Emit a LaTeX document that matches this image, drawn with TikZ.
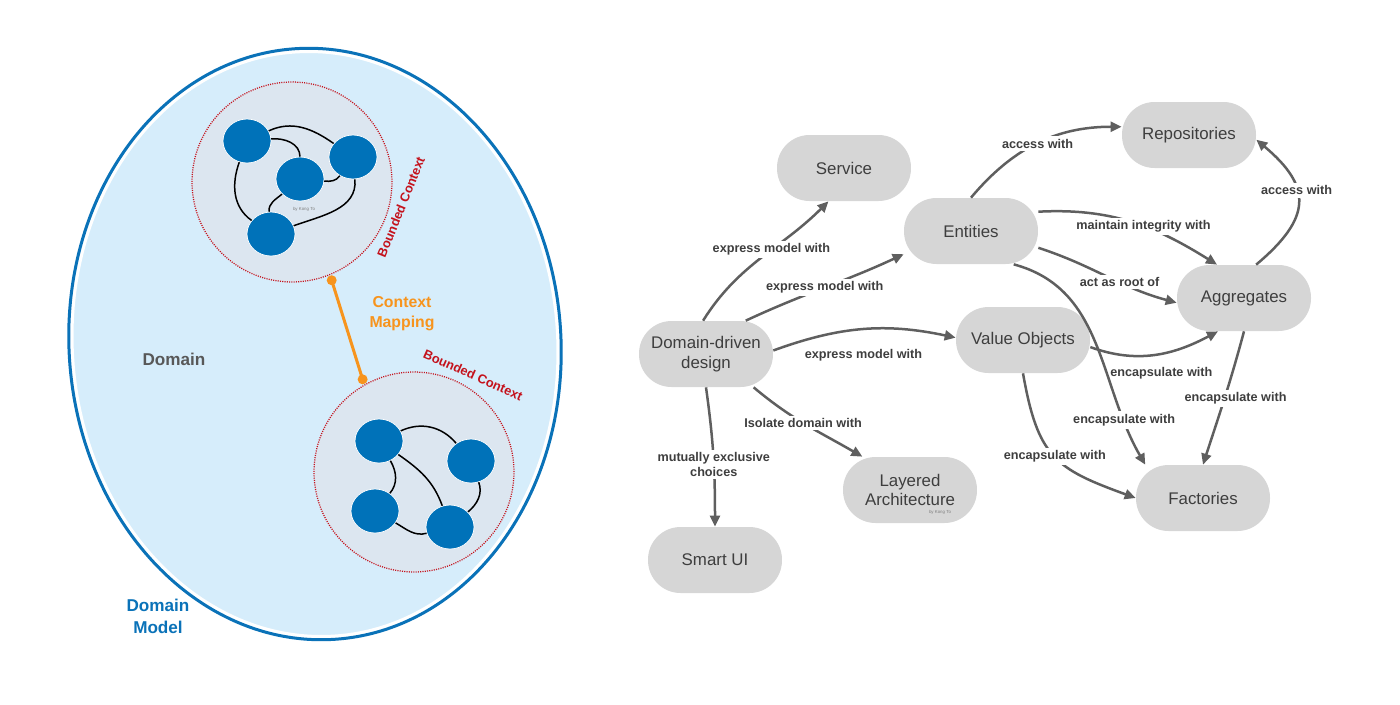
\documentclass[tikz,border=0pt]{standalone}
\usepackage{fontspec}
\setmainfont{Liberation Sans}
\usetikzlibrary{shapes.geometric,arrows.meta}
\definecolor{dmfill}{RGB}{214,237,251}
\definecolor{dmblue}{RGB}{10,114,184}
\definecolor{bcfill}{RGB}{220,230,240}
\definecolor{bcred}{RGB}{196,18,28}
\definecolor{objblue}{RGB}{0,114,185}
\definecolor{mapor}{RGB}{247,148,29}
\definecolor{nodegray}{RGB}{214,214,214}
\definecolor{txtgray}{RGB}{62,62,62}
\definecolor{domgray}{RGB}{88,88,88}
\definecolor{arrgray}{RGB}{95,95,95}

\begin{document}
\begin{tikzpicture}[x=0.02cm,y=-0.02cm,
  concept/.style={rectangle,rounded corners=0.65cm,fill=nodegray,minimum width=2.68cm,minimum height=1.32cm,inner sep=0pt,align=center,text=txtgray,font=\fontsize{9.6}{11.3}\selectfont},
  rel/.style={draw=arrgray,line width=0.05cm,-{Triangle[length=0.22cm,width=0.2cm]}},
  lbl/.style={fill=white,inner sep=1.5pt,align=center,text=txtgray,font=\bfseries\fontsize{7.2}{8}\selectfont},
  obj/.style={ellipse,fill=objblue,draw=white,line width=0.4pt,minimum width=0.96cm,minimum height=0.88cm,inner sep=0pt},
  link/.style={draw=black,line width=0.03cm},
  bctx/.style={circle,fill=bcfill,draw=bcred,dash pattern=on 0.6pt off 0.7pt,line width=0.025cm,minimum size=4cm,inner sep=0pt,outer sep=3.4pt},
  bctxtext/.style={text=bcred,font=\bfseries\fontsize{7.3}{8}\selectfont},
  sig/.style={text=gray,font=\fontsize{2.5}{3}\selectfont}]
  \useasboundingbox (0,0) rectangle (1400,704);

  \draw[dmblue,line width=0.06cm,rotate around={4:(315,344)}] (315,344) ellipse [x radius=4.92cm, y radius=5.92cm];
  \filldraw[fill=dmfill,draw=white,line width=0.03cm,rotate around={4:(315,344)}] (315,344) ellipse [x radius=4.84cm, y radius=5.84cm];

  \node[bctx] (bc1) at (292,182) {};
  \node[bctx] (bc2) at (414,472) {};

  \node[obj] (a) at (247,141) {};
  \node[obj] (b) at (353,157) {};
  \node[obj] (c) at (300,179) {};
  \node[obj] (d) at (271,234) {};
  \draw[link] (a) to[out=25,in=145] (b);
  \draw[link] (a) to[out=5,in=90] (c);
  \draw[link] (a) to[out=-110,in=145] (d);
  \draw[link] (c) to[out=-5,in=235] (b);
  \draw[link] (c) to[out=220,in=95] (d);
  \draw[link] (b) to[out=-85,in=20] (d);
  \node[sig] (sig1) at (304,209) {by Kong To};

  \node[obj] (e) at (379,441) {};
  \node[obj] (f) at (471,461) {};
  \node[obj] (g) at (375,511) {};
  \node[obj] (h) at (450,527) {};
  \draw[link] (e) to[out=25,in=130] (f);
  \draw[link] (e) to[out=-35,in=110] (h);
  \draw[link] (e) to[out=-60,in=50] (g);
  \draw[link] (g) to[out=-30,in=195] (h);
  \draw[link] (f) to[out=-70,in=40] (h);

  \draw[mapor,line width=0.06cm] (bc1.-68) -- (bc2.119);
  \fill[mapor] (bc1.-68) circle (0.1cm) (bc2.119) circle (0.1cm);

  \node[text=mapor,align=center,font=\bfseries\fontsize{9}{11.3}\selectfont] (ctxmap) at (402,314) {Context\\Mapping};
  \node[text=domgray,font=\bfseries\fontsize{9.75}{12}\selectfont] (domain) at (174,359) {Domain};
  \node[text=dmblue,align=center,font=\bfseries\fontsize{9.75}{12.5}\selectfont] (dmodel) at (158,616) {Domain\\Model};
  \node[bctxtext,rotate=68] (bct1) at (401,207) {Bounded Context};
  \node[bctxtext,rotate=-24] (bct2) at (473,375) {Bounded Context};

  \node[concept] (ddd) at (706,354) {Domain-driven\\design};
  \node[concept] (service) at (844,168) {Service};
  \node[concept] (entities) at (971,231) {Entities};
  \node[concept] (repos) at (1189,135) {Repositories};
  \node[concept] (aggr) at (1244,298) {Aggregates};
  \node[concept] (valobj) at (1023,340) {Value Objects};
  \node[concept] (factories) at (1203,498) {Factories};
  \node[concept] (layered) at (910,490) {Layered\\Architecture};
  \node[concept] (smartui) at (715,560) {Smart UI};
  \node[sig] (sig2) at (940,512) {by Kong To};

  \draw[rel] (ddd.95) to[out=58,in=-135] node[lbl,pos=.58] {express model with} (service.245);
  \draw[rel] (ddd.40) to[out=25,in=205] node[lbl] {express model with} (entities.199);
  \draw[rel] (ddd.3) to[out=20,in=168] node[lbl,fill=none,below=9pt] {express model with} (valobj.178);
  \draw[rel] (ddd.-35) to[out=-40,in=150] node[lbl,pos=.47] {Isolate domain with} (layered.145);
  \draw[rel] (ddd.south) to[out=-82,in=90] node[lbl,pos=.56] {mutually exclusive\\choices} (smartui.north);
  \draw[rel] (entities.north) to[out=50,in=180] node[lbl] {access with} (repos.173);
  \draw[rel] (entities.16) to[out=3,in=148] node[lbl,pos=.57] {maintain integrity with} (aggr.129);
  \draw[rel] (entities.-14) to[out=-18,in=165] node[lbl,pos=.6] {act as root of} (aggr.184);
  \draw[rel] (aggr.70) to[out=40,in=-40,looseness=1.5] node[lbl,pos=.6] {access with} (repos.-4);
  \draw[rel] (entities.-38) to[out=-15,in=120] node[lbl,pos=.82] {encapsulate with} (factories.150);
  \draw[rel] (valobj.-6) to[out=-20,in=208] node[lbl,fill=none,pos=.55,below=6pt] {encapsulate with} (aggr.232);
  \draw[rel] (aggr.south) to[out=-105,in=72] node[lbl,xshift=0.22cm] {encapsulate with} (factories.north);
  \draw[rel] (valobj.south) to[out=-80,in=160,looseness=1.3] node[lbl,pos=.5] {encapsulate with} (factories.west);
\end{tikzpicture}
\end{document}
